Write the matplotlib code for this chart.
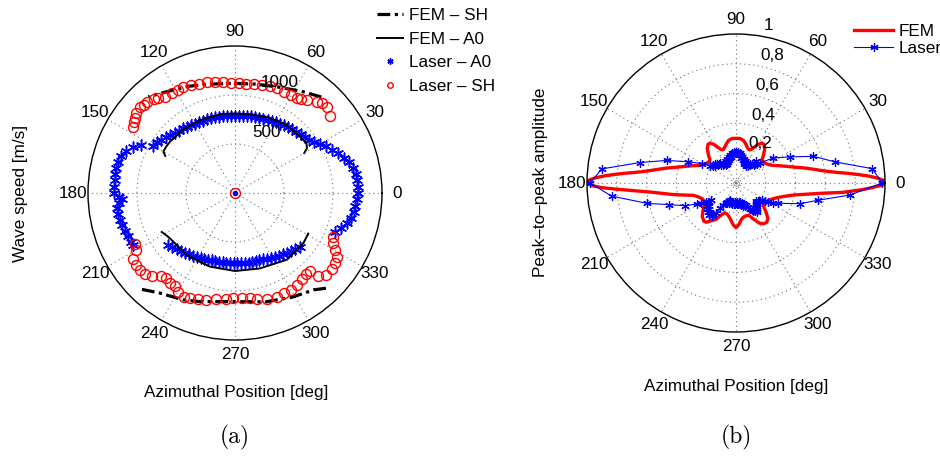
import numpy as np
import matplotlib
matplotlib.use("Agg")
import matplotlib.pyplot as plt

plt.rcParams['font.family'] = ['Liberation Sans', 'DejaVu Sans']

# ---------------- (a) wave speed [m/s] vs azimuth [deg] ----------------
# Laser - A0 (three separate runs of points)
a0_top_deg = [150, 147, 144, 141, 138, 135, 132, 129, 126, 123, 120, 117, 114, 111, 108,
              105, 102, 99, 96, 93, 90, 87, 84, 81, 78, 75, 72, 69, 66, 63, 60, 57, 54,
              51, 48, 45, 42, 39, 36, 33, 30, 27, 24, 21, 18, 15, 12, 9, 6, 3, 0, -3,
              -6, -9, -12, -15, -18, -21]
a0_top_speed = [969, 949, 928, 908, 887, 872, 857, 847, 836, 826, 818, 812, 808, 806, 804,
                801, 796, 791, 787, 785, 785, 787, 791, 796, 799, 802, 804, 811, 818, 826,
                836, 845, 852, 862, 874, 887, 901, 913, 928, 959, 1000, 1046, 1086, 1127,
                1168, 1204, 1229, 1246, 1255, 1258, 1258, 1244, 1236, 1226, 1206, 1183,
                1142, 1097]
a0_left_deg = [153, 156, 159, 162, 165, 168, 171, 174, 177, 180, 182, 183, 185, 187, 190,
               193, 196, 199, 202, 205, 207]
a0_left_speed = [1071, 1142, 1193, 1224, 1237, 1239, 1236, 1234, 1237, 1239, 1183, 1158,
                 1193, 1216, 1212, 1205, 1195, 1183, 1178, 1173, 1168]
a0_bot_deg = [218, 221, 224, 227, 230, 233, 236, 239, 242, 245, 248, 251, 254, 257, 260,
              263, 266, 269, 272, 275, 278, 281, 284, 287, 290, 293, 296, 299, 302, 305,
              308, 311, 314, 317, 320]
a0_bot_speed = [867, 847, 826, 811, 796, 783, 770, 758, 748, 740, 732, 727, 723, 720, 718,
                717, 717, 717, 718, 719, 721, 723, 725, 727, 729, 737, 747, 757, 768, 779,
                792, 806, 823, 843, 863]

# Laser - SH
sh_top_deg = [39, 43, 46, 48, 52, 55, 57, 60, 64, 68, 72, 76, 80, 84, 88, 92, 96, 100,
              104, 108, 112, 116, 119, 122, 126, 129, 131, 134, 136, 138, 141, 143, 145, 147]
sh_top_speed = [1245, 1286, 1276, 1255, 1200, 1173, 1153, 1153, 1150, 1153, 1143, 1139,
                1133, 1122, 1122, 1128, 1139, 1153, 1163, 1173, 1194, 1209, 1204, 1204,
                1214, 1245, 1265, 1286, 1296, 1306, 1296, 1276, 1255, 1245]
sh_bot_deg = [207, 210, 213, 216, 219, 222, 225, 228, 231, 234, 237, 240, 244, 247, 251,
              255, 260, 265, 269, 274, 278, 282, 287, 292, 296, 300, 304, 308, 311, 314,
              315, 318, 322, 325, 328, 330, 333, 336]
sh_bot_speed = [1143, 1163, 1243, 1243, 1252, 1242, 1204, 1133, 1112, 1133, 1133, 1163,
                1184, 1168, 1148, 1130, 1098, 1082, 1074, 1077, 1086, 1102, 1129, 1141,
                1136, 1138, 1131, 1118, 1100, 1109, 1204, 1255, 1261, 1247, 1224, 1173,
                1127, 1098]

# FEM - A0
fem_a0_top_deg = [152, 150, 146, 142, 130, 116, 100, 91, 80, 67, 53, 41, 35, 32, 30]
fem_a0_top_speed = [806, 844, 847, 845, 836, 826, 818, 812, 818, 843, 871, 877, 889, 867, 816]
fem_a0_bot_deg = [208, 212, 216, 232, 251, 270, 288, 308, 324, 331]
fem_a0_bot_speed = [847, 821, 806, 802, 794, 796, 810, 863, 865, 854]

# FEM - SH
fem_sh_top_deg = [48, 56, 67, 79, 91, 103, 114, 124, 132]
fem_sh_top_speed = [1317, 1246, 1172, 1132, 1119, 1140, 1191, 1246, 1322]
fem_sh_bot_deg = [226, 233, 244, 252, 269, 286, 299, 309, 314]
fem_sh_bot_speed = [1367, 1278, 1212, 1165, 1109, 1155, 1214, 1272, 1349]

# ---------------- (b) peak-to-peak amplitude vs azimuth ----------------
fem_amp_deg = [0, 1, 2, 3, 4, 5, 6, 7, 8, 10, 12, 15, 18, 22, 26, 30, 35, 40, 42, 45, 50,
               54, 57, 60, 63, 66, 69, 72, 76, 80, 85, 90, 95, 100, 104, 108, 111, 114, 117,
               120, 123, 126, 130, 135, 138, 140, 145, 150, 154, 158, 162, 165, 168, 170,
               172, 173, 174, 175, 176, 177, 178, 179, 180,
               181, 182, 183, 184, 185, 186, 188, 190, 193, 196, 200, 205, 210, 215, 220,
               225, 230, 233, 237, 241, 245, 249, 253, 257, 262, 266, 270, 274, 278, 282,
               287, 292, 296, 300, 304, 308, 312, 316, 320, 325, 330, 335, 340, 344, 348,
               351, 353, 355, 357, 358, 359, 360]
fem_amp = [1.0, 0.99, 0.95, 0.89, 0.82, 0.75, 0.68, 0.63, 0.59, 0.53, 0.48, 0.41, 0.36,
           0.31, 0.27, 0.25, 0.235, 0.23, 0.235, 0.26, 0.30, 0.32, 0.32, 0.30, 0.27, 0.245,
           0.24, 0.25, 0.27, 0.29, 0.30, 0.30, 0.30, 0.29, 0.27, 0.25, 0.24, 0.245, 0.27,
           0.30, 0.32, 0.32, 0.30, 0.26, 0.235, 0.23, 0.235, 0.25, 0.27, 0.31, 0.36, 0.41,
           0.48, 0.53, 0.59, 0.63, 0.68, 0.75, 0.82, 0.89, 0.95, 0.99, 1.0,
           0.97, 0.90, 0.80, 0.71, 0.64, 0.58, 0.50, 0.44, 0.36, 0.30, 0.27, 0.25, 0.245,
           0.26, 0.29, 0.32, 0.335, 0.33, 0.30, 0.28, 0.24, 0.215, 0.215, 0.225, 0.25, 0.28,
           0.30, 0.28, 0.25, 0.235, 0.23, 0.235, 0.27, 0.31, 0.33, 0.335, 0.32, 0.28, 0.24,
           0.235, 0.245, 0.26, 0.29, 0.33, 0.39, 0.48, 0.57, 0.72, 0.85, 0.91, 0.97, 1.0]

laser_amp_deg = [0, 6, 12, 19, 26, 34, 40,
                 42, 44, 46, 48, 50, 52, 54, 56, 58, 60, 62, 64, 66, 68, 70, 72, 74, 76, 78,
                 80, 82, 84, 86, 88, 90, 92, 94, 96, 98, 100, 102, 104, 106, 108, 110, 112,
                 114, 116, 118, 120, 122, 124, 126, 128, 130, 132, 134, 136, 138, 140, 142,
                 144, 146,
                 150, 156, 162, 168, 174, 180, 186, 193, 198, 204,
                 208, 210, 212, 214, 216, 218, 220, 222, 224, 226, 228, 230, 232, 234, 236,
                 238, 240, 242, 244, 246, 248, 250, 252, 254, 256, 258, 260, 262, 264, 266,
                 268, 270, 272, 274, 276, 278, 280, 282, 284, 286, 288, 290, 292, 294, 296,
                 298, 300, 302, 304, 306, 308, 310, 312, 314, 316, 318, 320, 322, 324, 326,
                 328, 330, 332,
                 334, 342, 348, 354, 360]
laser_amp = [0.98, 0.92, 0.68, 0.55, 0.40, 0.30, 0.21,
             0.19, 0.17, 0.18, 0.20, 0.17, 0.15, 0.16, 0.14, 0.15, 0.13, 0.14, 0.15, 0.14,
             0.16, 0.15, 0.17, 0.16, 0.18, 0.17, 0.19, 0.20, 0.19, 0.21, 0.20, 0.21, 0.20,
             0.21, 0.19, 0.20, 0.18, 0.19, 0.17, 0.18, 0.16, 0.17, 0.15, 0.16, 0.14, 0.15,
             0.14, 0.15, 0.16, 0.15, 0.17, 0.16, 0.17, 0.18, 0.17, 0.19, 0.18, 0.20, 0.19,
             0.21,
             0.26, 0.35, 0.49, 0.66, 0.905, 0.98, 0.84, 0.61, 0.47, 0.375,
             0.30, 0.27, 0.24, 0.20, 0.22, 0.25, 0.24, 0.26, 0.25, 0.27, 0.26, 0.28, 0.26,
             0.27, 0.24, 0.20, 0.17, 0.15, 0.14, 0.15, 0.13, 0.14, 0.12, 0.13, 0.14, 0.13,
             0.14, 0.13, 0.14, 0.13, 0.14, 0.135, 0.14, 0.13, 0.14, 0.13, 0.14, 0.13, 0.15,
             0.14, 0.16, 0.15, 0.17, 0.16, 0.18, 0.20, 0.21, 0.22, 0.23, 0.24, 0.23, 0.22,
             0.20, 0.19, 0.20, 0.18, 0.19, 0.20, 0.20, 0.21, 0.23, 0.25, 0.28,
             0.31, 0.45, 0.56, 0.77, 0.98]

speed_rings = [500, 1000]
amp_rings = [0.2, 0.4, 0.6, 0.8]

FS = 12.3
GRID_STYLE = dict(color='0.45', linestyle=(0, (1, 3)), linewidth=0.8)


def rad(deg):
    return np.deg2rad(np.asarray(deg, dtype=float))


def setup_polar(ax, rmax, rings):
    ax.set_ylim(0, rmax)
    ax.set_xticks(rad(np.arange(0, 360, 30)))
    ax.set_xticklabels([])
    ax.set_yticks(rings)
    ax.set_yticklabels([])
    ax.tick_params(length=0)
    ax.grid(True, **GRID_STYLE)
    ax.spines['polar'].set_color('black')
    ax.spines['polar'].set_linewidth(1.0)
    for d in range(0, 360, 30):
        ax.text(np.deg2rad(d), rmax * 1.1, str(d), ha='center', va='center',
                fontsize=FS, clip_on=False)


fig = plt.figure(figsize=(9.4, 4.57), dpi=100)

# left polar
ax1 = fig.add_axes([88 / 940, 117 / 457, 294 / 940, 294 / 457], projection='polar')
setup_polar(ax1, 1500, speed_rings)
ax1.text(np.deg2rad(62), 694, '500', ha='center', va='center', fontsize=FS)
ax1.text(np.deg2rad(67.7), 1214, '1000', ha='center', va='center', fontsize=FS)

star = dict(linestyle='none', marker=(6, 2, 0), color='blue', markersize=8, mew=1.1)
p_a0, = ax1.plot(rad(a0_top_deg), a0_top_speed, **star)
ax1.plot(rad(a0_left_deg), a0_left_speed, **star)
ax1.plot(rad(a0_bot_deg), a0_bot_speed, **star)

sh_dash = (0, (4, 1.4, 1, 1.4))
l_sh, = ax1.plot(rad(fem_sh_top_deg), fem_sh_top_speed, color='black', lw=2.3, linestyle=sh_dash)
ax1.plot(rad(fem_sh_bot_deg), fem_sh_bot_speed, color='black', lw=2.3, linestyle=sh_dash)
l_a0, = ax1.plot(rad(fem_a0_top_deg), fem_a0_top_speed, color='black', lw=1.4, zorder=3)
ax1.plot(rad(fem_a0_bot_deg), fem_a0_bot_speed, color='black', lw=1.4, zorder=3)

ring = dict(linestyle='none', marker='o', mfc='none', mec='red', markersize=7.2, mew=1.0)
p_sh, = ax1.plot(rad(sh_top_deg), sh_top_speed, **ring)
ax1.plot(rad(sh_bot_deg), sh_bot_speed, **ring)
# origin point of both laser series
ax1.plot([0], [0], **ring)
ax1.plot([0], [0], linestyle='none', marker='o', color='blue', markersize=3)

ax1.legend([l_sh, l_a0, p_a0, p_sh],
           ['FEM – SH', 'FEM – A0', 'Laser – A0', 'Laser – SH'],
           loc='upper left', bbox_to_anchor=(377 / 940, 1 - 8 / 457),
           bbox_transform=fig.transFigure, frameon=False, fontsize=FS,
           handlelength=1.55, handletextpad=0.35, labelspacing=0.5,
           borderaxespad=0, borderpad=0, numpoints=1, markerscale=0.55)

# right polar
ax2 = fig.add_axes([587 / 940, 125 / 457, 298 / 940, 298 / 457], projection='polar')
setup_polar(ax2, 1.0, amp_rings)
for ang, r, lab in [(59, 0.313, '0,2'), (68, 0.49, '0,4'), (72, 0.69, '0,6'),
                    (74, 0.89, '0,8'), (78.5, 1.08, '1')]:
    ax2.text(np.deg2rad(ang), r, lab, ha='center', va='center', fontsize=FS, clip_on=False)

l_fem, = ax2.plot(rad(fem_amp_deg), fem_amp, color='red', lw=2.4)
l_las, = ax2.plot(rad(laser_amp_deg), laser_amp, color='blue', lw=0.8,
                  marker=(6, 2, 0), markersize=6, mew=0.9)
ax2.plot([0], [0], linestyle='none', marker='o', mfc='none', mec='0.5', markersize=4, mew=0.6)

ax2.legend([l_fem, l_las], ['FEM', 'Laser'], loc='upper left',
           bbox_to_anchor=(854 / 940, 1 - 24 / 457), bbox_transform=fig.transFigure,
           frameon=False, fontsize=FS, handlelength=2.3, handletextpad=0.3,
           labelspacing=0.12, borderaxespad=0, borderpad=0)

# axis labels and panel captions
fig.text(21 / 940, 1 - 193 / 457, 'Wave speed [m/s]', rotation=90, ha='center', va='center', fontsize=FS)
fig.text(236 / 940, 1 - 393 / 457, 'Azimuthal Position [deg]', ha='center', va='center', fontsize=FS)
fig.text(541 / 940, 1 - 182 / 457, 'Peak–to–peak amplitude', rotation=90, ha='center', va='center', fontsize=FS)
fig.text(736 / 940, 1 - 387 / 457, 'Azimuthal Position [deg]', ha='center', va='center', fontsize=FS)
fig.text(235 / 940, 1 - 437 / 457, '(a)', ha='center', va='center', fontsize=17, family='cmr10')
fig.text(736 / 940, 1 - 437 / 457, '(b)', ha='center', va='center', fontsize=17, family='cmr10')

fig.savefig('out.png', dpi=100, facecolor='white')
